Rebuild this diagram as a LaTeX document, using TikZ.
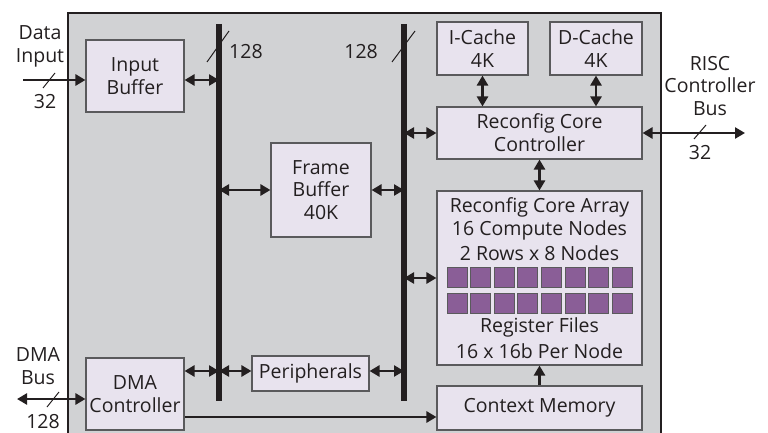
\documentclass[tikz,border=0pt]{standalone}
\usepackage{fontspec}
\setmainfont{Open Sans}
\usetikzlibrary{arrows.meta}
\definecolor{bggray}{HTML}{D1D2D4}
\definecolor{boxfill}{HTML}{E8E3EE}
\definecolor{boxline}{HTML}{5A5A5C}
\definecolor{sq}{HTML}{8A5E97}
\definecolor{ink}{HTML}{231F20}
\tikzset{
  blk/.style={draw=boxline, line width=1.1pt, fill=boxfill, align=center, inner sep=0pt,
    font=\fontsize{19.5}{22.8}\selectfont, text=ink},
  lbl/.style={align=center, inner sep=0pt, font=\fontsize{19.5}{22.8}\selectfont, text=ink},
  bus/.style={line width=5.5pt, draw=ink},
  one/.style={line width=2.6pt, draw=ink, -{Triangle[length=10pt,width=11pt]}},
  two/.style={line width=2.6pt, draw=ink, {Triangle[length=10pt,width=11pt]}-{Triangle[length=10pt,width=11pt]}},
  slash/.style={line width=1pt, draw=ink},
  cell/.style={draw=boxline, line width=0.8pt, fill=sq, minimum width=20pt, minimum height=20pt, inner sep=0pt}
}
\begin{document}
\begin{tikzpicture}[x=1pt,y=-1pt]
\useasboundingbox (0,0) rectangle (768,433);
% outer chip area
\path[fill=bggray, draw=ink, line width=2pt] (68,13) -- (661,13) -- (661,440) -- (68,440) -- cycle;

% buses
\coordinate (b1t) at (219,24); \coordinate (b1b) at (219,401);
\coordinate (b2t) at (404,24); \coordinate (b2b) at (404,401);
\draw[bus] (b1t) -- (b1b);
\draw[bus] (b2t) -- (b2b);

% blocks
\node[blk, minimum width=98pt, minimum height=72pt] (ib) at (135,76) {Input\\Buffer};
\node[blk, minimum width=98pt, minimum height=72pt] (dma) at (135,394) {DMA\\Controller};
\node[blk, minimum width=100pt, minimum height=94pt] (fb) at (321,190) {Frame\\Buffer\\40K};
\node[blk, minimum width=117pt, minimum height=35pt] (per) at (310.5,373.5) {Peripherals};
\node[blk, minimum width=91pt, minimum height=53pt] (ic) at (482.5,48.5) {I-Cache\\4K};
\node[blk, minimum width=92pt, minimum height=53pt] (dc) at (596,48.5) {D-Cache\\4K};
\node[blk, minimum width=205pt, minimum height=52pt] (rcc) at (539.5,133) {Reconfig Core\\Controller};
\node[blk, minimum width=205pt, minimum height=174pt] (rca) at (539.5,278) {};
\node[blk, minimum width=205pt, minimum height=44pt] (cm) at (539.5,408) {Context Memory};

% core array contents
\node[lbl] (t1) at (539.5,207) {Reconfig Core Array};
\node[lbl] (t2) at (539.5,230) {16 Compute Nodes};
\node[lbl] (t3) at (539.5,253) {2 Rows x 8 Nodes};
\foreach \i in {0,...,7} {
  \node[cell] (ca\i) at (457+\i*23.6,277) {};
  \node[cell] (cb\i) at (457+\i*23.6,303) {};
}
\node[lbl] (t4) at (539.5,327) {Register Files};
\node[lbl] (t5) at (539.5,351) {16 x 16b Per Node};

% connectors
\coordinate (din) at (23,80);
\draw[one] (din) -- (ib.west |- din);
\draw[two] (ib.east |- din) -- (b1t |- din);
\draw[two] (b1t |- fb.west) -- (fb.west);
\draw[two] (fb.east) -- (b2t |- fb.east);
\coordinate (yl) at (0,371);
\draw[two] (dma.east |- yl) -- (b1t |- yl);
\draw[two] (b1t |- yl) -- (per.west |- yl);
\draw[two] (per.east |- yl) -- (b2t |- yl);
\draw[two] (b2t |- rcc.west) -- (rcc.west);
\draw[two] (b2t |- rca.west) -- (rca.west);
\draw[two] (ic.south) -- (ic.south |- rcc.north);
\draw[two] (dc.south) -- (dc.south |- rcc.north);
\draw[two] (rcc.south) -- (rca.north);
\draw[one] (cm.north) -- (rca.south);
\coordinate (yd) at (0,417);
\draw[one] (dma.east |- yd) -- (cm.west |- yd);
\coordinate (risc) at (745,133);
\draw[two] (rcc.east) -- (risc);
\coordinate (dmab) at (17,399);
\draw[two] (dmab) -- (dma.west |- dmab);

% bus width slashes and labels
\draw[slash] (207,62) -- (229,31);
\node[lbl, anchor=west] (w1) at (229,52) {128};
\draw[slash] (392,62) -- (415,31);
\node[lbl, anchor=east] (w2) at (378,52) {128};
\draw[slash] (43,88) -- (55,73);
\node[lbl] (w3) at (45,102) {32};
\node[lbl] (di) at (40,46) {Data\\Input};
\draw[slash] (694,139) -- (706,125);
\node[lbl] (w4) at (700,153) {32};
\node[lbl] (rl) at (710,86) {RISC\\Controller\\Bus};
\draw[slash] (47,407) -- (59,392);
\node[lbl] (w5) at (43,422) {128};
\node[lbl] (dl) at (38,366) {DMA\\Bus};
\end{tikzpicture}
\end{document}
